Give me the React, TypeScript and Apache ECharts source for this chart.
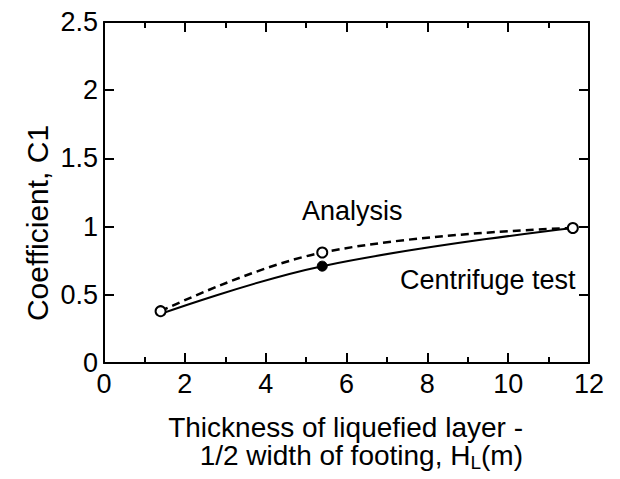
import React, { useEffect, useRef } from "react";
import * as echarts from "echarts";

const analysisX = [1.4, 5.4, 11.6];
const analysisY = [0.38, 0.81, 0.99];
const centrifugeX = [1.4, 5.4, 11.6];
const centrifugeY = [0.36, 0.71, 0.99];
const xTicks = [0, 2, 4, 6, 8, 10, 12];
const yTicks = [0, 0.5, 1, 1.5, 2, 2.5];

const FONT = "'Liberation Sans', Arial, Helvetica, sans-serif";

export default function App() {
  const ref = useRef<HTMLDivElement>(null);
  useEffect(() => {
    if (!ref.current) return;
    const chart = echarts.init(ref.current, undefined, { renderer: "svg" });
    const axisLine = { show: true, onZero: false, lineStyle: { color: "#000", width: 2 } };
    const baseX = {
      type: "value" as const,
      min: xTicks[0],
      max: xTicks[xTicks.length - 1],
      interval: 2,
      splitLine: { show: false },
      axisLine,
      axisTick: { show: true, inside: true, length: 10, lineStyle: { color: "#000", width: 2 } },
      minorTick: { show: true, splitNumber: 2, length: 6, lineStyle: { color: "#000", width: 2 } },
    };
    const baseY = {
      type: "value" as const,
      min: yTicks[0],
      max: yTicks[yTicks.length - 1],
      interval: 0.5,
      splitLine: { show: false },
      axisLine,
      axisTick: { show: true, inside: true, length: 10, lineStyle: { color: "#000", width: 2 } },
    };
    chart.setOption({
      animation: false,
      backgroundColor: "#fff",
      grid: { left: 104, top: 22, right: 31, bottom: 116, containLabel: false },
      xAxis: [
        {
          ...baseX,
          position: "bottom",
          axisLabel: {
            show: true,
            color: "#000",
            fontSize: 27,
            fontFamily: FONT,
            margin: 7,
            formatter: (v: number) => (xTicks.includes(v) ? String(v) : ""),
          },
        },
        { ...baseX, position: "top", axisLabel: { show: false } },
      ],
      yAxis: [
        {
          ...baseY,
          position: "left",
          axisLabel: {
            show: true,
            color: "#000",
            fontSize: 27,
            fontFamily: FONT,
            margin: 6,
            formatter: (v: number) => String(v),
          },
        },
        { ...baseY, position: "right", axisLabel: { show: false } },
      ],
      series: [
        {
          name: "Centrifuge test",
          type: "line",
          smooth: 0.4,
          data: centrifugeX.map((x, i) => ({
            value: [x, centrifugeY[i]],
            symbol: i === 1 ? "circle" : "none",
          })),
          symbolSize: 10,
          itemStyle: { color: "#000", borderColor: "#000" },
          lineStyle: { color: "#000", width: 2 },
          z: 2,
        },
        {
          name: "Analysis",
          type: "line",
          smooth: 0.4,
          data: analysisX.map((x, i) => [x, analysisY[i]]),
          symbol: "circle",
          symbolSize: 10,
          showSymbol: true,
          itemStyle: { color: "#fff", borderColor: "#000", borderWidth: 2 },
          lineStyle: { color: "#000", width: 2.5, type: [8, 5] },
          z: 3,
        },
      ],
      graphic: [
        {
          type: "text",
          left: 302,
          top: 197,
          style: { text: "Analysis", font: `27px ${FONT}`, fill: "#000" },
        },
        {
          type: "text",
          left: 400,
          top: 266,
          style: { text: "Centrifuge test", font: `27px ${FONT}`, fill: "#000" },
        },
        {
          type: "text",
          x: 37,
          y: 223,
          rotation: Math.PI / 2,
          style: {
            text: "Coefficient, C1",
            font: `30px ${FONT}`,
            fill: "#000",
            align: "center",
            verticalAlign: "middle",
          },
        },
        {
          type: "text",
          x: 523,
          y: 441,
          style: {
            text: "{n|Thickness of liquefied layer -}\n{n|1/2 width of footing, H}{s|L}{n|(m)}",
            fill: "#000",
            align: "right",
            verticalAlign: "middle",
            rich: {
              n: { fontSize: 28, fontFamily: FONT, fill: "#000", lineHeight: 28 },
              s: { fontSize: 19, fontFamily: FONT, fill: "#000", lineHeight: 12, verticalAlign: "top", padding: [12, 0, 0, 0] },
            },
          },
        },
      ],
    });
    return () => chart.dispose();
  }, []);
  return <div ref={ref} style={{ position: "fixed", left: 0, top: 0, width: 620, height: 479 }} />;
}
